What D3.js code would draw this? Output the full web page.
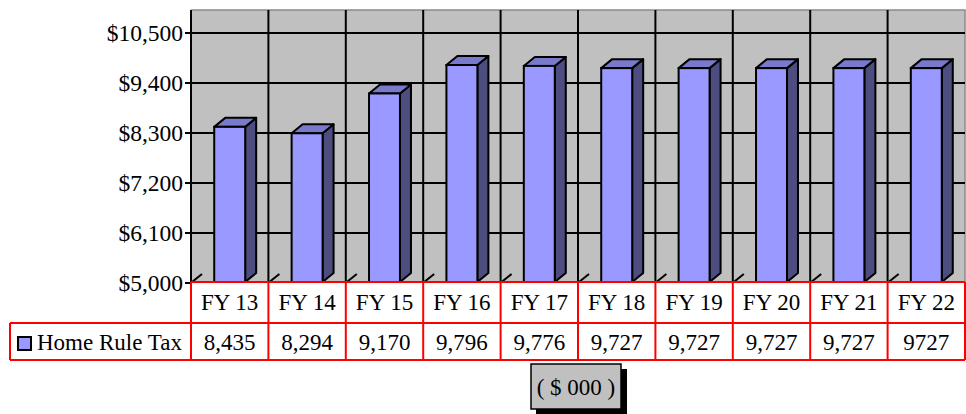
<!DOCTYPE html>
<html>
<head>
<meta charset="utf-8">
<script src="https://cdn.jsdelivr.net/npm/d3@7"></script>
<style>
  body { margin: 0; background: #fff; }
</style>
</head>
<body>
<svg id="chart" width="966" height="414"></svg>
<script>
// chart data
var years = ['FY 13', 'FY 14', 'FY 15', 'FY 16', 'FY 17', 'FY 18', 'FY 19', 'FY 20', 'FY 21', 'FY 22'];
var homeRuleTax = [8435, 8294, 9170, 9796, 9776, 9727, 9727, 9727, 9727, 9727];
var tableLabels = ['8,435', '8,294', '9,170', '9,796', '9,776', '9,727', '9,727', '9,727', '9,727', '9727'];
var yTicks = [5000, 6100, 7200, 8300, 9400, 10500];
var seriesName = 'Home Rule Tax';
var unitsNote = '( $ 000 )';

var FONT = "'Liberation Serif', 'Times New Roman', Times, serif";

var svg = d3.select('#chart')
    .attr('font-family', FONT);

var wallLeft = 191, wallRight = 965, wallTop = 10, floorY = 282;
var depthX = 11, depthY = 9;

var x = d3.scaleBand().domain(years).range([wallLeft, wallRight]).padding(0);
var y = d3.scaleLinear().domain([5000, 10500]).range([283, 33]);

// back wall
svg.append('rect')
    .attr('x', wallLeft).attr('y', wallTop)
    .attr('width', wallRight - wallLeft).attr('height', floorY - wallTop)
    .attr('fill', '#c0c0c0');
svg.append('path')
    .attr('d', 'M' + wallLeft + ',' + wallTop + 'H' + wallRight + 'V' + floorY)
    .attr('fill', 'none').attr('stroke', '#8a8a8a').attr('stroke-width', 1.5);

// horizontal gridlines
svg.selectAll('.hgrid')
    .data(yTicks).enter().append('line')
    .attr('class', 'hgrid')
    .attr('x1', wallLeft - 6).attr('x2', wallRight)
    .attr('y1', function(d) { return y(d); })
    .attr('y2', function(d) { return y(d); })
    .attr('stroke', '#000').attr('stroke-width', 2);

// vertical gridlines + floor depth ticks
var bounds = years.map(function(d) { return x(d); });
svg.selectAll('.vgrid')
    .data(bounds.slice(1)).enter().append('line')
    .attr('class', 'vgrid')
    .attr('x1', function(d) { return d; }).attr('x2', function(d) { return d; })
    .attr('y1', wallTop).attr('y2', floorY)
    .attr('stroke', '#000').attr('stroke-width', 2);
svg.selectAll('.floortick')
    .data(bounds).enter().append('line')
    .attr('class', 'floortick')
    .attr('x1', function(d) { return d + 1; }).attr('y1', floorY)
    .attr('x2', function(d) { return d + depthX; }).attr('y2', floorY - depthY + 1)
    .attr('stroke', '#000').attr('stroke-width', 2);

// value axis line
svg.append('line')
    .attr('x1', wallLeft).attr('x2', wallLeft)
    .attr('y1', wallTop).attr('y2', floorY + 1)
    .attr('stroke', '#000').attr('stroke-width', 2);

// 3D bars
var barW = x.bandwidth() * 0.4;
var bars = svg.selectAll('.bar')
    .data(homeRuleTax).enter().append('g')
    .attr('class', 'bar');

function left(d, i) { return x(years[i]) + (x.bandwidth() - barW) / 2; }

bars.append('path') // side
    .attr('d', function(d, i) {
        var x0 = left(d, i) + barW, t = y(d);
        return 'M' + x0 + ',' + t + 'L' + (x0 + depthX) + ',' + (t - depthY) +
            'L' + (x0 + depthX) + ',' + (floorY - depthY) + 'L' + x0 + ',' + floorY + 'Z';
    })
    .attr('fill', '#4d4d80').attr('stroke', '#000').attr('stroke-width', 2)
    .attr('stroke-linejoin', 'round');
bars.append('path') // top
    .attr('d', function(d, i) {
        var x0 = left(d, i), t = y(d);
        return 'M' + x0 + ',' + t + 'L' + (x0 + depthX) + ',' + (t - depthY) +
            'L' + (x0 + barW + depthX) + ',' + (t - depthY) + 'L' + (x0 + barW) + ',' + t + 'Z';
    })
    .attr('fill', '#7a7acc').attr('stroke', '#000').attr('stroke-width', 2)
    .attr('stroke-linejoin', 'round');
bars.append('rect') // front
    .attr('x', function(d, i) { return left(d, i); })
    .attr('y', function(d) { return y(d); })
    .attr('width', barW)
    .attr('height', function(d) { return floorY - y(d); })
    .attr('fill', '#9999ff').attr('stroke', '#000').attr('stroke-width', 2);

// data table
var row1 = floorY, row2 = 323, row3 = 360, legendLeft = 10;
var table = svg.append('g');
table.append('rect')
    .attr('x', wallLeft).attr('y', row1).attr('width', 966 - wallLeft).attr('height', row3 - row1 + 2)
    .attr('fill', '#fff');

// tick labels
svg.selectAll('.ylab')
    .data(yTicks).enter().append('text')
    .attr('class', 'ylab')
    .attr('x', 183)
    .attr('y', function(d) { return y(d) + 8; })
    .attr('text-anchor', 'end')
    .attr('font-size', 23.5)
    .text(function(d) { return '$' + d3.format(',')(d); });

table.selectAll('.yearlab')
    .data(years).enter().append('text')
    .attr('x', function(d) { return x(d) + x.bandwidth() / 2; })
    .attr('y', row1 + 28)
    .attr('text-anchor', 'middle')
    .attr('font-size', 23)
    .text(function(d) { return d; });
table.selectAll('.vallab')
    .data(tableLabels).enter().append('text')
    .attr('x', function(d, i) { return x(years[i]) + x.bandwidth() / 2; })
    .attr('y', row2 + 27)
    .attr('text-anchor', 'middle')
    .attr('font-size', 23)
    .text(function(d) { return d; });

var red = '#ff0000';
table.append('line').attr('x1', wallLeft).attr('x2', wallRight).attr('y1', row1).attr('y2', row1)
    .attr('stroke', red).attr('stroke-width', 2);
table.append('line').attr('x1', legendLeft).attr('x2', wallRight).attr('y1', row2).attr('y2', row2)
    .attr('stroke', red).attr('stroke-width', 2);
table.append('line').attr('x1', legendLeft).attr('x2', wallRight).attr('y1', row3).attr('y2', row3)
    .attr('stroke', red).attr('stroke-width', 2);
table.append('line').attr('x1', legendLeft).attr('x2', legendLeft).attr('y1', row2).attr('y2', row3)
    .attr('stroke', red).attr('stroke-width', 2);
table.selectAll('.colline')
    .data(bounds.concat([wallRight])).enter().append('line')
    .attr('x1', function(d) { return d; }).attr('x2', function(d) { return d; })
    .attr('y1', row1).attr('y2', row3)
    .attr('stroke', red).attr('stroke-width', 2);

// legend key
table.append('rect')
    .attr('x', 18).attr('y', 337).attr('width', 13).attr('height', 13)
    .attr('fill', '#9999ff').attr('stroke', '#000').attr('stroke-width', 2);
table.append('text')
    .attr('x', 37).attr('y', row2 + 27)
    .attr('font-size', 23)
    .text(seriesName);

// units box
var note = svg.append('g');
note.append('rect')
    .attr('x', 536).attr('y', 369).attr('width', 91).attr('height', 45)
    .attr('fill', '#000');
note.append('rect')
    .attr('x', 531).attr('y', 364).attr('width', 90).attr('height', 45)
    .attr('fill', '#c0c0c0').attr('stroke', '#000').attr('stroke-width', 1.5);
note.append('text')
    .attr('x', 576).attr('y', 395)
    .attr('text-anchor', 'middle')
    .attr('font-size', 23)
    .text(unitsNote);
</script>
</body>
</html>
